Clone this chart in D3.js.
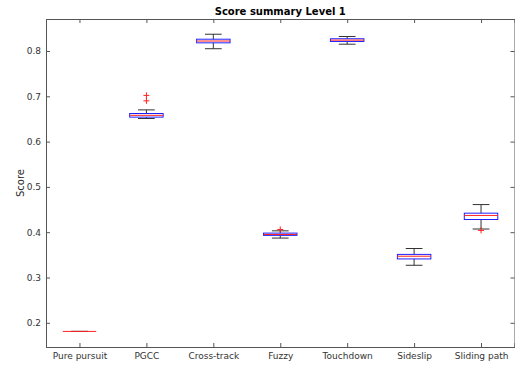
<!DOCTYPE html>
<html>
<head>
<meta charset="utf-8">
<script src="https://cdn.jsdelivr.net/npm/d3@7"></script>
<style>
  html, body { margin: 0; padding: 0; background: #fff; }
  svg { display: block; font-family: "DejaVu Sans", sans-serif; }
</style>
</head>
<body>
<svg id="chart" width="515" height="366"></svg>
<script>
// Controller score distributions, level 1
const categories  = ["Pure pursuit", "PGCC", "Cross-track", "Fuzzy", "Touchdown", "Sideslip", "Sliding path"];
const whiskerLow  = [0.181, 0.651, 0.805, 0.387, 0.815, 0.327, 0.407];
const q1          = [0.181, 0.654, 0.818, 0.393, 0.821, 0.341, 0.428];
const median      = [0.181, 0.658, 0.822, 0.395, 0.824, 0.347, 0.437];
const q3          = [0.181, 0.662, 0.826, 0.398, 0.827, 0.351, 0.442];
const whiskerHigh = [0.181, 0.670, 0.837, 0.403, 0.832, 0.364, 0.461];
const outliers    = [[], [0.690, 0.702], [], [0.406], [], [], [0.404]];
const yTicks      = [0.2, 0.3, 0.4, 0.5, 0.6, 0.7, 0.8];

const svg = d3.select("#chart");
const m = { left: 46, right: 514.5, top: 19, bottom: 347 };

const x = d3.scaleLinear().domain([0.5, categories.length + 0.5]).range([m.left, m.right]);
const y = d3.scaleLinear().domain([0.1466, 0.8706]).range([m.bottom, m.top]);

const boxW = 0.5;      // box width in category units
const capW = 0.25;     // whisker cap width

const stats = categories.map((c, i) => ({
  name: c, pos: i + 1,
  lo: whiskerLow[i], q1: q1[i], med: median[i], q3: q3[i], hi: whiskerHigh[i],
  out: outliers[i]
}));

// axes frame
const axisColor = "#555";
const tickColor = "#333";

const gx = svg.append("g").attr("transform", `translate(0,${m.bottom})`)
  .call(d3.axisBottom(x).tickValues(stats.map(d => d.pos))
    .tickFormat(v => categories[v - 1]).tickSize(-4).tickPadding(6));
const gxTop = svg.append("g").attr("transform", `translate(0,${m.top})`)
  .call(d3.axisTop(x).tickValues(stats.map(d => d.pos)).tickFormat("").tickSize(-4));
const gy = svg.append("g").attr("transform", `translate(${m.left},0)`)
  .call(d3.axisLeft(y).tickValues(yTicks).tickFormat(d3.format(".1f")).tickSize(-4).tickPadding(5));
const gyRight = svg.append("g").attr("transform", `translate(${m.right},0)`)
  .call(d3.axisRight(y).tickValues(yTicks).tickFormat("").tickSize(-4));

[gx, gxTop, gy, gyRight].forEach(g => {
  g.select(".domain").attr("stroke", axisColor).attr("stroke-width", 1);
  g.selectAll(".tick line").attr("stroke", axisColor);
  g.selectAll(".tick text").attr("fill", tickColor).attr("font-size", 9)
    .attr("font-family", "DejaVu Sans, sans-serif");
});

// boxes
const g = svg.append("g");
const boxes = g.selectAll("g.box").data(stats).join("g").attr("class", "box");

// whisker stems
boxes.append("line")
  .attr("x1", d => x(d.pos)).attr("x2", d => x(d.pos))
  .attr("y1", d => y(d.q3)).attr("y2", d => y(d.hi))
  .attr("stroke", "#333").attr("stroke-width", 1);
boxes.append("line")
  .attr("x1", d => x(d.pos)).attr("x2", d => x(d.pos))
  .attr("y1", d => y(d.q1)).attr("y2", d => y(d.lo))
  .attr("stroke", "#333").attr("stroke-width", 1);
// whisker caps
boxes.append("line")
  .attr("x1", d => x(d.pos - capW / 2)).attr("x2", d => x(d.pos + capW / 2))
  .attr("y1", d => y(d.hi)).attr("y2", d => y(d.hi))
  .attr("stroke", "#333").attr("stroke-width", 1);
boxes.append("line")
  .attr("x1", d => x(d.pos - capW / 2)).attr("x2", d => x(d.pos + capW / 2))
  .attr("y1", d => y(d.lo)).attr("y2", d => y(d.lo))
  .attr("stroke", "#333").attr("stroke-width", 1);

// interquartile box
boxes.append("rect")
  .attr("x", d => x(d.pos - boxW / 2))
  .attr("width", d => x(d.pos + boxW / 2) - x(d.pos - boxW / 2))
  .attr("y", d => y(d.q3))
  .attr("height", d => Math.max(0, y(d.q1) - y(d.q3)))
  .attr("fill", "none").attr("stroke", "#2020ff").attr("stroke-width", 1);

// median
boxes.append("line")
  .attr("x1", d => x(d.pos - boxW / 2)).attr("x2", d => x(d.pos + boxW / 2))
  .attr("y1", d => y(d.med)).attr("y2", d => y(d.med))
  .attr("stroke", "#ff2020").attr("stroke-width", 1);

// outliers
const ms = 3;
boxes.each(function(d) {
  d3.select(this).selectAll("path.out").data(d.out).join("path")
    .attr("class", "out")
    .attr("d", v => {
      const cx = x(d.pos), cy = y(v);
      return `M${cx - ms},${cy}H${cx + ms}M${cx},${cy - ms}V${cy + ms}`;
    })
    .attr("stroke", "#ff2020").attr("stroke-width", 1).attr("fill", "none");
});

// title and axis label
svg.append("text")
  .attr("x", (m.left + m.right) / 2).attr("y", 15)
  .attr("text-anchor", "middle").attr("font-size", 10).attr("font-weight", "bold")
  .attr("fill", "#000")
  .text("Score summary Level 1");

svg.append("text")
  .attr("transform", `translate(24,${(m.top + m.bottom) / 2}) rotate(-90)`)
  .attr("text-anchor", "middle").attr("font-size", 10)
  .attr("fill", "#262626")
  .text("Score");
</script>
</body>
</html>
